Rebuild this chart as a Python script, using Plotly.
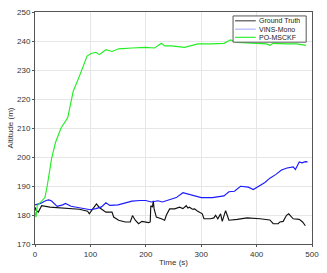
import plotly.graph_objects as go

# Ground Truth
gt_t = [0, 2, 6, 12, 27, 56, 80, 95, 98, 104, 111, 116, 128, 139, 142, 151, 163, 172, 176, 181, 187, 193, 205, 208, 209, 212, 213.5, 215, 219, 228, 234, 237, 243, 252, 261, 267, 273, 276, 279, 284, 288, 293, 297, 302, 305, 317, 323, 326, 330, 335, 338, 344, 347, 350, 365, 383, 406, 424, 430, 439, 442, 448, 454, 458, 466, 477, 483, 488]
gt_v = [182.7, 181.5, 181.0, 183.2, 182.7, 182.3, 182.0, 181.3, 180.4, 182.0, 183.8, 182.6, 181.0, 181.0, 179.3, 178.2, 177.6, 177.6, 179.8, 178.2, 177.0, 177.8, 177.4, 177.6, 183.2, 182.7, 184.9, 182.1, 179.3, 178.7, 178.2, 179.9, 182.1, 182.1, 182.7, 182.2, 183.2, 182.4, 182.7, 182.0, 182.1, 181.4, 181.0, 180.4, 178.7, 178.7, 179.0, 179.9, 178.7, 180.4, 177.8, 181.5, 179.9, 178.2, 178.5, 179.0, 178.7, 178.3, 177.0, 177.0, 177.6, 177.8, 179.9, 180.4, 178.7, 178.5, 177.6, 176.3]

# VINS-Mono
vins_t = [0, 10, 20, 25, 30, 40, 50, 55, 65, 80, 90, 100, 110, 120, 128, 135, 150, 160, 175, 190, 200, 210, 222, 230, 240, 255, 267, 280, 290, 300, 320, 341, 350, 360, 371, 385, 394, 405, 415, 424, 435, 445, 455, 466, 470, 477, 482, 488, 492]
vins_v = [183.5, 184.0, 185.0, 185.2, 184.8, 183.0, 183.5, 184.0, 183.0, 182.5, 182.0, 181.8, 182.2, 182.8, 184.2, 183.3, 183.5, 184.0, 184.8, 185.0, 185.0, 184.5, 184.9, 184.5, 185.0, 186.0, 187.7, 187.0, 186.5, 186.0, 186.0, 186.6, 188.0, 188.2, 189.9, 189.6, 188.8, 190.0, 191.2, 192.7, 194.0, 195.5, 196.2, 196.6, 195.7, 198.3, 198.0, 198.4, 198.3]

# PO-MSCKF
po_t = [0, 2, 4, 12, 18, 22, 30, 37, 47, 59, 69, 80, 94, 101, 110, 116, 128, 139, 151, 175, 199, 216, 228, 234, 246, 270, 282, 294, 317, 341, 353, 365, 400, 418, 424, 430, 454, 472, 489]
po_v = [181.0, 179.3, 183.2, 184.9, 186.0, 190.0, 199.5, 205.0, 210.0, 213.5, 222.7, 227.8, 234.8, 235.7, 236.1, 235.3, 237.0, 236.4, 237.3, 237.6, 237.8, 237.6, 239.2, 238.3, 238.3, 237.8, 238.3, 239.0, 239.0, 239.2, 240.4, 239.5, 239.2, 239.0, 238.5, 239.2, 239.0, 239.0, 238.5]

x_ticks = [0, 100, 200, 300, 400, 500]
y_ticks = [170, 180, 190, 200, 210, 220, 230, 240, 250]

series_names = ["Ground Truth", "VINS-Mono", "PO-MSCKF"]
series_colors = ["#111111", "#1a1aff", "#22ee22"]
legend_colors = ["#444444", "#a8adff", "#22ee22"]

FONT = "Liberation Sans, Arial"

fig = go.Figure()
for (t, v), name, col in zip([(gt_t, gt_v), (vins_t, vins_v), (po_t, po_v)],
                             series_names, series_colors):
    fig.add_trace(go.Scatter(x=t, y=v, mode="lines", name=name, showlegend=False,
                             line=dict(color=col, width=1.15)))

# compact legend box drawn in paper coordinates
shapes = [dict(type="rect", xref="paper", yref="paper", x0=0.715, x1=0.979,
               y0=0.870, y1=0.983, fillcolor="white",
               line=dict(color="#555555", width=1), layer="above")]
annotations = []
rows_y = [0.962, 0.926, 0.891]
for yy, name, col in zip(rows_y, series_names, legend_colors):
    shapes.append(dict(type="line", xref="paper", yref="paper", x0=0.722, x1=0.797,
                       y0=yy, y1=yy, line=dict(color=col, width=1.1), layer="above"))
    annotations.append(dict(xref="paper", yref="paper", x=0.802, y=yy, text=name,
                            showarrow=False, xanchor="left", yanchor="middle",
                            font=dict(family=FONT, size=7, color="#222222")))

axis_common = dict(showgrid=True, gridcolor="#e6e6e6", gridwidth=1,
                   showline=True, linecolor="#555555", linewidth=1, mirror=True,
                   ticks="outside", ticklen=2, tickcolor="#555555",
                   zeroline=False,
                   tickfont=dict(family=FONT, size=8, color="#333333"))

fig.update_layout(
    width=327, height=273,
    margin=dict(l=35, r=11, t=8, b=27),
    paper_bgcolor="white", plot_bgcolor="white",
    showlegend=False,
    shapes=shapes, annotations=annotations,
    xaxis=dict(range=[0, 500], tickvals=x_ticks,
               title=dict(text="Time (s)", standoff=1,
                          font=dict(family=FONT, size=8, color="#333333")),
               **axis_common),
    yaxis=dict(range=[170, 250], tickvals=y_ticks,
               title=dict(text="Altitude (m)", standoff=2,
                          font=dict(family=FONT, size=8, color="#333333")),
               **axis_common),
)

fig.write_html("out.html", config={"displayModeBar": False},
               post_script="document.body.style.margin='0';")
